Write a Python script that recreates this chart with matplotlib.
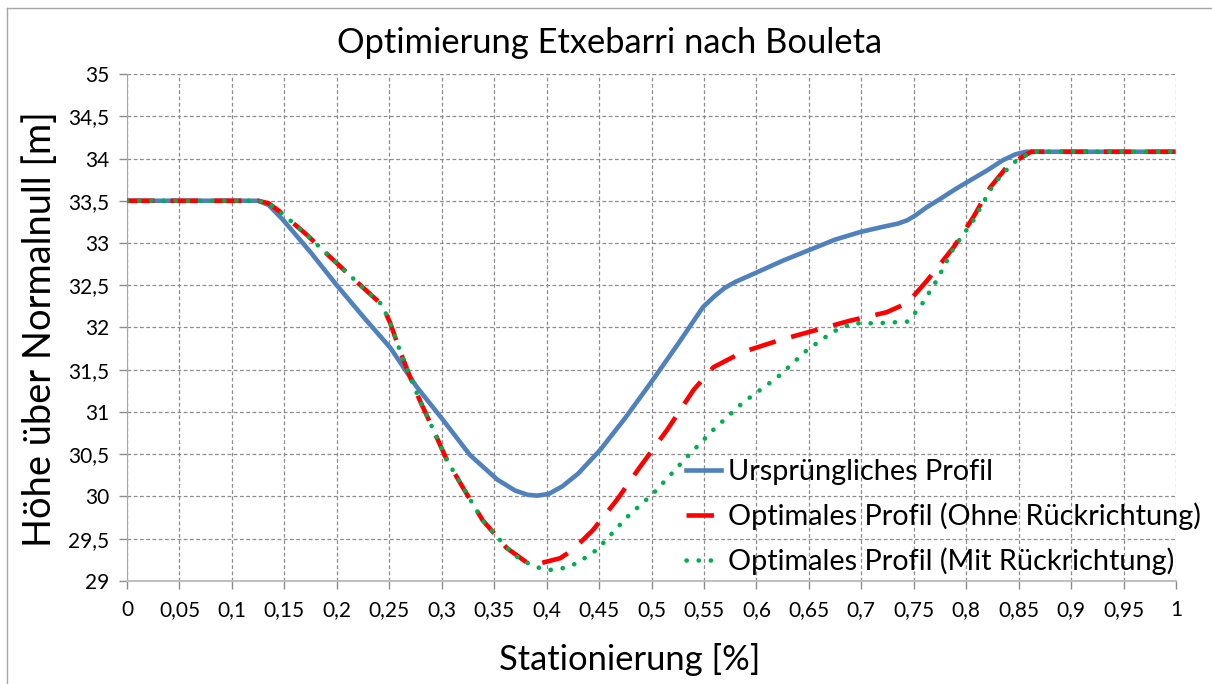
import matplotlib.pyplot as plt
from matplotlib.lines import Line2D
from matplotlib.ticker import FuncFormatter, MultipleLocator

plt.rcParams["font.family"] = ["Lato", "DejaVu Sans"]

# Stationierung (fraction of length) and heights above sea level [m]
x_orig = [0.0, 0.05, 0.10, 0.125, 0.135, 0.149, 0.175, 0.200, 0.225, 0.251, 0.276,
          0.301, 0.327, 0.353, 0.370, 0.382, 0.391, 0.402, 0.415, 0.430, 0.451, 0.475, 0.499,
          0.525, 0.549, 0.560, 0.570, 0.580, 0.600, 0.625, 0.651, 0.675, 0.699, 0.720,
          0.735, 0.744, 0.752, 0.762, 0.775, 0.790, 0.805, 0.820, 0.835, 0.847, 0.857, 0.90, 1.0]
y_orig = [33.5, 33.5, 33.5, 33.5, 33.45, 33.27, 32.89, 32.50, 32.13, 31.76, 31.30,
          30.91, 30.49, 30.20, 30.07, 30.02, 30.01, 30.03, 30.12, 30.27, 30.55, 30.93, 31.34,
          31.80, 32.24, 32.37, 32.47, 32.54, 32.65, 32.79, 32.92, 33.04, 33.13, 33.19,
          33.23, 33.27, 33.33, 33.42, 33.52, 33.64, 33.75, 33.86, 33.98, 34.05, 34.08, 34.08, 34.08]

x_ohne = [0.0, 0.05, 0.10, 0.125, 0.135, 0.146, 0.172, 0.194, 0.219, 0.243, 0.251,
          0.260, 0.270, 0.279, 0.292, 0.305, 0.320, 0.339, 0.362, 0.381, 0.394,
          0.413, 0.425, 0.444, 0.467, 0.489, 0.515, 0.540, 0.559, 0.587, 0.622,
          0.654, 0.689, 0.724, 0.744, 0.763, 0.788, 0.807, 0.823, 0.840, 0.862, 0.90, 1.0]
y_ohne = [33.5, 33.5, 33.5, 33.5, 33.47, 33.37, 33.09, 32.83, 32.54, 32.27, 32.05,
          31.73, 31.41, 31.14, 30.79, 30.43, 30.11, 29.72, 29.39, 29.22, 29.21,
          29.27, 29.37, 29.60, 29.96, 30.35, 30.79, 31.26, 31.53, 31.71, 31.85,
          31.96, 32.08, 32.18, 32.29, 32.56, 32.95, 33.31, 33.66, 33.92, 34.08, 34.08, 34.08]

x_mit = [0.0, 0.05, 0.10, 0.125, 0.135, 0.146, 0.172, 0.194, 0.219, 0.243, 0.251,
         0.260, 0.270, 0.279, 0.292, 0.305, 0.320, 0.339, 0.360, 0.375, 0.394,
         0.403, 0.415, 0.429, 0.448, 0.477, 0.502, 0.534, 0.559, 0.587, 0.620,
         0.648, 0.673, 0.692, 0.715, 0.744, 0.756, 0.772, 0.788, 0.807, 0.823,
         0.832, 0.845, 0.862, 0.90, 1.0]
y_mit = [33.5, 33.5, 33.5, 33.5, 33.47, 33.37, 33.09, 32.83, 32.54, 32.27, 32.05,
         31.73, 31.41, 31.14, 30.79, 30.43, 30.11, 29.72, 29.42, 29.25, 29.15,
         29.13, 29.15, 29.21, 29.37, 29.76, 30.04, 30.47, 30.79, 31.11, 31.41,
         31.73, 31.95, 32.05, 32.05, 32.07, 32.24, 32.56, 32.94, 33.27, 33.63,
         33.78, 33.95, 34.08, 34.08, 34.08]

labels = [
    "Ursprüngliches Profil",
    "Optimales Profil (Ohne Rückrichtung)",
    "Optimales Profil (Mit Rückrichtung)",
]

BLUE = "#4f81bd"
RED = "#ff0000"
GREEN = "#00b050"
DASH = (0, (6, 3.5))
DOT = (0, (0.05, 2.6))

fig = plt.figure(figsize=(12.12, 6.84), dpi=100)
ax = fig.add_axes([0.1048, 0.1506, 0.8655, 0.7412])

ax.plot(x_orig, y_orig, color=BLUE, lw=3.3, solid_capstyle="round",
        solid_joinstyle="round", zorder=3)
ax.plot(x_ohne, y_ohne, color=RED, lw=3.3, linestyle=DASH, zorder=4)
ax.plot(x_mit, y_mit, color=GREEN, lw=3.3, linestyle=DOT, dash_capstyle="round", zorder=5)

ax.set_xlim(0, 1)
ax.set_ylim(29, 35)
ax.xaxis.set_major_locator(MultipleLocator(0.05))
ax.yaxis.set_major_locator(MultipleLocator(0.5))
comma = FuncFormatter(lambda v, _: f"{v:.2f}".rstrip("0").rstrip(".").replace(".", ","))
ax.xaxis.set_major_formatter(comma)
ax.yaxis.set_major_formatter(comma)

ax.grid(True, color="#8c8c8c", lw=0.9, linestyle=(0, (3, 2)))
ax.set_axisbelow(True)
for side in ("top", "right"):
    ax.spines[side].set_visible(False)
ax.spines["left"].set_color("#a6a6a6")
ax.spines["bottom"].set_color("#bfbfbf")
ax.spines["bottom"].set_linewidth(1.5)
ax.tick_params(axis="both", colors="#8c8c8c", length=6, width=1, labelsize=15,
               labelcolor="black", direction="out")
ax.tick_params(axis="x", pad=8)
ax.tick_params(axis="y", pad=7)

fig.text(0.503, 0.937, "Optimierung Etxebarri nach Bouleta", fontsize=24.8,
         ha="center", va="center")
ax.set_xlabel("Stationierung [%]", fontsize=24.8)
ax.xaxis.set_label_coords(0.4795, -0.122)
ax.set_ylabel("Höhe über Normalnull [m]", fontsize=27.4)
ax.yaxis.set_label_coords(-0.066, 0.497)

handles = [
    Line2D([], [], color=BLUE, lw=3.3),
    Line2D([], [], color=RED, lw=3.3, linestyle=DASH),
    Line2D([], [], color=GREEN, lw=3.3, linestyle=DOT, dash_capstyle="round"),
]
ax.legend(handles, labels, loc="lower left", bbox_to_anchor=(0.533, 0.012),
          frameon=False, fontsize=20.8, handlelength=1.2, handletextpad=0.25,
          labelspacing=0.6, borderpad=0, borderaxespad=0)

# thin outer frame of the chart area
fig.add_artist(Line2D([7 / 1212, 7 / 1212], [0, 1 - 8 / 684], color="#a6a6a6", lw=1))
fig.add_artist(Line2D([7 / 1212, 1], [1 - 8 / 684, 1 - 8 / 684], color="#a6a6a6", lw=1))

fig.savefig("out.png", dpi=100)
